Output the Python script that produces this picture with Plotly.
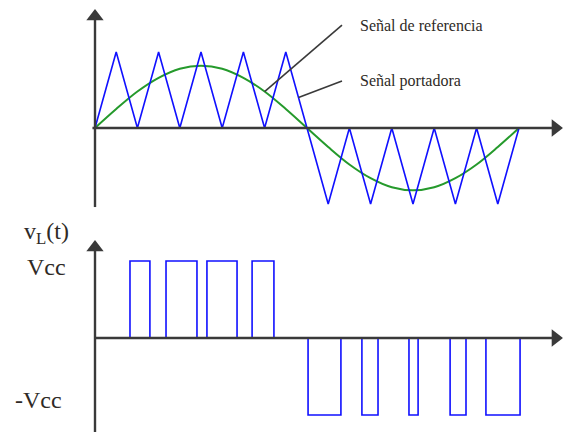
import plotly.graph_objects as go

# Time base: one unit = half a carrier period; one reference cycle = 20 units
carrier_t = list(range(21))
carrier_v = [0, 1, 0, 1, 0, 1, 0, 1, 0, 1, 0,
             -1, 0, -1, 0, -1, 0, -1, 0, -1, 0]

# Reference (modulating) signal samples
ref_t = list(range(21))
ref_v = [0, 0.25, 0.48, 0.66, 0.78, 0.82, 0.78, 0.66, 0.48, 0.25, 0,
         -0.25, -0.48, -0.66, -0.78, -0.82, -0.78, -0.66, -0.48, -0.25, 0]

# Output voltage pulses (start, end) in time units
pos_pulses = [(1.65, 2.59), (3.35, 4.81), (5.28, 6.70), (7.41, 8.44)]
neg_pulses = [(10.05, 11.60), (12.59, 13.35), (14.81, 15.24),
              (16.75, 17.50), (18.44, 20.05)]
vcc = 1.0

# Build the stepped output waveform
pwm_t, pwm_v = [0.0], [0.0]
for level, pulses in ((vcc, pos_pulses), (-vcc, neg_pulses)):
    for a, b in pulses:
        pwm_t += [a, a, b, b]
        pwm_v += [0, level, level, 0]

BLUE = "#1010ff"
GREEN = "#259a2c"
AXIS = "#3a3a3a"
TEXT = "#2e2a26"
FONT = "Liberation Serif"

# axis extents (time units / signal units)
t_end = 21.72
top_v_min, top_v_max = -1.04, 1.467
bot_v_min, bot_v_max = -1.23, 1.175

fig = go.Figure()
fig.add_trace(go.Scatter(x=ref_t, y=ref_v, mode="lines", line_shape="spline",
                         line=dict(color=GREEN, width=2), hoverinfo="skip"))
fig.add_trace(go.Scatter(x=carrier_t, y=carrier_v, mode="lines",
                         line=dict(color=BLUE, width=1.6), hoverinfo="skip"))
fig.add_trace(go.Scatter(x=pwm_t, y=pwm_v, mode="lines", yaxis="y2",
                         line=dict(color=BLUE, width=1.6), hoverinfo="skip"))

# axis lines
shapes = [
    dict(type="line", xref="x", yref="y", x0=0, y0=top_v_min, x1=0, y1=top_v_max,
         line=dict(color=AXIS, width=2.4)),
    dict(type="line", xref="x", yref="y", x0=-0.12, y0=0, x1=t_end, y1=0,
         line=dict(color=AXIS, width=2.4)),
    dict(type="line", xref="x", yref="y2", x0=0, y0=bot_v_min, x1=0, y1=bot_v_max,
         line=dict(color=AXIS, width=2.4)),
    dict(type="line", xref="x", yref="y2", x0=0, y0=0, x1=t_end, y1=0,
         line=dict(color=AXIS, width=2.4)),
]

# arrowheads at the axis ends
fig.add_trace(go.Scatter(x=[0, t_end], y=[top_v_max, 0], mode="markers",
                         marker=dict(symbol=["triangle-up", "triangle-right"],
                                     size=15, color=AXIS, line=dict(width=0)),
                         hoverinfo="skip"))
fig.add_trace(go.Scatter(x=[0, t_end], y=[bot_v_max, 0], mode="markers",
                         yaxis="y2",
                         marker=dict(symbol=["triangle-up", "triangle-right"],
                                     size=15, color=AXIS, line=dict(width=0)),
                         hoverinfo="skip"))

# labels for the two upper signals with leader lines
label_t = 12.4
lead_t = 11.65
ref_label_v = 1.355
car_label_v = 0.62
annotations = [
    dict(x=label_t, y=ref_label_v, xref="x", yref="y",
         text="Señal de referencia", showarrow=False,
         xanchor="left", yanchor="middle",
         font=dict(family=FONT, size=16, color=TEXT)),
    dict(x=label_t, y=car_label_v, xref="x", yref="y",
         text="Señal portadora", showarrow=False,
         xanchor="left", yanchor="middle",
         font=dict(family=FONT, size=16, color=TEXT)),
]

shapes += [
    dict(type="line", xref="x", yref="y", x0=lead_t, y0=ref_label_v,
         x1=ref_t[8], y1=ref_v[8], line=dict(color=AXIS, width=1.6)),
    dict(type="line", xref="x", yref="y", x0=lead_t, y0=car_label_v,
         x1=9.6, y1=1 - 0.6, line=dict(color=AXIS, width=1.6)),
]

# output-voltage axis labels
annotations += [
    dict(x=-3.45, y=1.36, xref="x", yref="y2",
         text="v<sub>L</sub>(t)", showarrow=False,
         xanchor="left", yanchor="middle",
         font=dict(family=FONT, size=24, color=TEXT)),
    dict(x=-3.3, y=vcc * 0.92, xref="x", yref="y2",
         text="Vcc", showarrow=False,
         xanchor="left", yanchor="middle",
         font=dict(family=FONT, size=24, color=TEXT)),
    dict(x=-3.85, y=-vcc * 0.8, xref="x", yref="y2",
         text="-Vcc", showarrow=False,
         xanchor="left", yanchor="middle",
         font=dict(family=FONT, size=24, color=TEXT)),
]

fig.update_layout(
    width=563, height=432,
    margin=dict(l=0, r=0, t=0, b=0),
    paper_bgcolor="white", plot_bgcolor="white",
    showlegend=False,
    xaxis=dict(range=[-95 / 21.2, 468 / 21.2], visible=False, fixedrange=True),
    yaxis=dict(range=[-4.0, 128 / 76], visible=False, fixedrange=True),
    yaxis2=dict(range=[-94 / 77, 338 / 77], visible=False, overlaying="y",
                fixedrange=True),
    annotations=annotations,
    shapes=shapes,
)

fig.write_html("out.html")
